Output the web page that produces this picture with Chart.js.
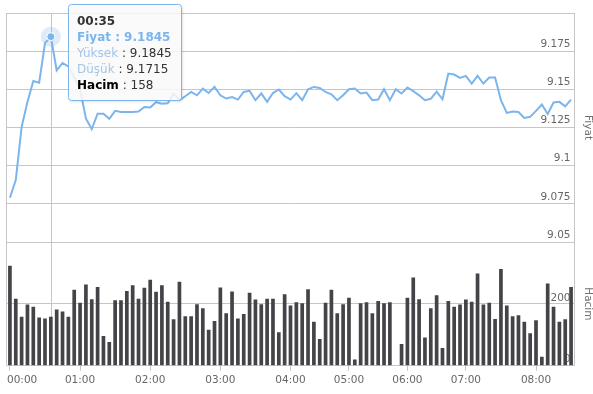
<!DOCTYPE html>
<html><head><meta charset="utf-8">
<script src="https://cdn.jsdelivr.net/npm/chart.js@4.4.0/dist/chart.umd.min.js"></script>
<style>html,body{margin:0;padding:0;background:#fff;}#wrap{position:relative;width:593px;height:394px;}</style>
</head><body><div id="wrap"><canvas id="c" width="593" height="394"></canvas></div>
<script>
const categories = [
 "00:00","00:05","00:10","00:15","00:20","00:25","00:30","00:35","00:40","00:45","00:50","00:55",
 "01:00","01:05","01:10","01:15","01:20","01:25","01:30","01:35","01:40","01:45","01:50","01:55",
 "02:00","02:05","02:10","02:15","02:20","02:25","02:30","02:35","02:40","02:45","02:50","02:55",
 "03:00","03:05","03:10","03:15","03:20","03:25","03:30","03:35","03:40","03:45","03:50","03:55",
 "04:00","04:05","04:10","04:15","04:20","04:25","04:30","04:35","04:40","04:45",
 "05:00","05:05","05:10","05:15","05:20","05:25","05:30","05:35","05:40","05:45",
 "06:00","06:05","06:10","06:15","06:20","06:25","06:30","06:35","06:40","06:45",
 "07:00","07:05","07:10","07:15","07:20","07:25","07:30","07:35","07:40","07:45","07:50","07:55",
 "08:00","08:05","08:10","08:15","08:20","08:25","08:30"
];
const prices = [
 9.0790,9.0906,9.1254,9.1418,9.1555,9.1544,9.1803,9.1845,9.1625,9.1673,9.1650,9.1580,
 9.1500,9.1309,9.1239,9.1341,9.1341,9.1307,9.1359,9.1352,9.1352,9.1352,9.1355,9.1385,
 9.1381,9.1416,9.1406,9.1409,9.1473,9.1429,9.1455,9.1483,9.1461,9.1505,9.1476,9.1516,
 9.1461,9.1440,9.1450,9.1433,9.1483,9.1490,9.1429,9.1473,9.1418,9.1476,9.1499,9.1455,
 9.1433,9.1475,9.1429,9.1501,9.1516,9.1509,9.1483,9.1468,9.1429,9.1461,
 9.1501,9.1505,9.1473,9.1479,9.1429,9.1433,9.1501,9.1429,9.1501,9.1473,
 9.1512,9.1488,9.1461,9.1429,9.1438,9.1485,9.1435,9.1603,9.1597,9.1575,
 9.1588,9.1538,9.1588,9.1538,9.1577,9.1577,9.1429,9.1346,9.1355,9.1352,9.1313,9.1320,
 9.1359,9.1401,9.1339,9.1414,9.1418,9.1389,9.1433
];
const volumes = [
 323,217,158,198,191,156,153,158,182,175,158,246,
 204,263,215,255,96,77,212,212,242,260,217,252,
 278,239,260,207,150,272,160,160,199,186,116,145,
 253,170,240,153,167,236,214,199,217,217,108,231,
 195,205,202,247,142,86,204,246,170,199,
 220,20,202,205,170,209,202,205,0,70,
 220,285,215,91,186,228,57,209,191,198,
 214,207,298,198,204,151,313,195,160,163,142,105,
 147,29,266,191,142,150,255
];
const priceTicks = [9.05, 9.075, 9.1, 9.125, 9.15, 9.175, 9.2];
const volumeTicks = [0, 200, 400];
const hoverIndex = 7;
const hoverHigh = 9.1845;
const hoverLow = 9.1715;

Chart.defaults.font.family = "'DejaVu Sans', Verdana, sans-serif";
const GRID = '#c6c6c6';
const LABEL = '#666666';
const isHour = i => categories[i].endsWith(':00');

const overlay = {
  id: 'overlay',
  beforeDatasetsDraw(chart) {
    const ctx = chart.ctx, a = chart.chartArea;
    const pt = chart.getDatasetMeta(0).data[hoverIndex];
    ctx.save();
    ctx.strokeStyle = GRID; ctx.lineWidth = 1;
    ctx.beginPath();
    const x = Math.round(pt.x) + 0.5, l = Math.round(a.left) - 0.5;
    ctx.moveTo(x, a.top); ctx.lineTo(x, a.bottom);
    ctx.moveTo(l, a.top); ctx.lineTo(l, a.bottom);
    ctx.stroke();
    ctx.restore();
  },
  afterDatasetsDraw(chart) {
    const ctx = chart.ctx;
    const pt = chart.getDatasetMeta(0).data[hoverIndex];
    ctx.save();
    ctx.fillStyle = 'rgba(124,181,236,0.25)';
    ctx.beginPath(); ctx.arc(pt.x, pt.y, 10, 0, Math.PI * 2); ctx.fill();
    ctx.fillStyle = '#7cb5ec'; ctx.strokeStyle = '#ffffff'; ctx.lineWidth = 1;
    ctx.beginPath(); ctx.arc(pt.x, pt.y, 4, 0, Math.PI * 2); ctx.fill(); ctx.stroke();
    ctx.restore();
  },
  afterDraw(chart) {
    const ctx = chart.ctx, a = chart.chartArea;
    const xs = chart.scales.x;
    // x axis hour labels (justified inside plot like the original)
    ctx.save();
    ctx.font = "10.5px 'DejaVu Sans'";
    ctx.fillStyle = LABEL;
    ctx.textBaseline = 'middle';
    categories.forEach((c, i) => {
      if (!isHour(i)) return;
      const w = ctx.measureText(c).width;
      let x = xs.getPixelForValue(i) - w / 2;
      if (x < a.left) x = a.left;
      if (x + w > a.right) x = a.right - w;
      ctx.fillText(c, x, a.bottom + 15);
    });
    ctx.restore();

    const pt = chart.getDatasetMeta(0).data[hoverIndex];
    const bx = Math.round(pt.x + 17) + 0.5, by = 4.5, bw = 113, bh = 96;
    ctx.save();
    ctx.shadowColor = 'rgba(0,0,0,0.18)'; ctx.shadowOffsetX = 1; ctx.shadowOffsetY = 1; ctx.shadowBlur = 3;
    ctx.fillStyle = 'rgba(255,255,255,0.85)';
    ctx.beginPath(); ctx.roundRect(bx, by, bw, bh, 3); ctx.fill();
    ctx.shadowColor = 'transparent';
    ctx.strokeStyle = '#7cb5ec'; ctx.lineWidth = 1; ctx.stroke();
    const lines = [
      [{t: categories[hoverIndex], c: '#333333', b: true}],
      [{t: 'Fiyat : ' + prices[hoverIndex].toFixed(4), c: '#7cb5ec', b: true}],
      [{t: 'Yüksek', c: '#a3c6e8'}, {t: ' : ' + hoverHigh.toFixed(4), c: '#333333'}],
      [{t: 'Düşük', c: '#a3c6e8'}, {t: ' : ' + hoverLow.toFixed(4), c: '#333333'}],
      [{t: 'Hacim', c: '#000000', b: true}, {t: ' : ' + volumes[hoverIndex], c: '#333333'}]
    ];
    const ys = [25, 40.5, 56.5, 72.5, 88.5];
    ctx.textBaseline = 'alphabetic';
    lines.forEach((segs, i) => {
      let x = bx + 8.5;
      segs.forEach(s => {
        ctx.font = (s.b ? 'bold ' : '') + "12px 'DejaVu Sans'";
        ctx.fillStyle = s.c;
        ctx.fillText(s.t, x, ys[i]);
        x += ctx.measureText(s.t).width;
      });
    });
    ctx.restore();
  }
};

new Chart(document.getElementById('c'), {
  data: {
    labels: categories,
    datasets: [
      {type: 'line', data: prices, yAxisID: 'y', borderColor: '#7cb5ec', borderWidth: 2,
       pointRadius: 0, tension: 0, fill: false, order: 0},
      {type: 'bar', data: volumes, yAxisID: 'y2', backgroundColor: '#434348',
       categoryPercentage: 1, barPercentage: 0.63, order: 1}
    ]
  },
  options: {
    responsive: false, animation: false, devicePixelRatio: 1,
    layout: {padding: {left: 7, top: 13, right: 0, bottom: 0}},
    plugins: {legend: {display: false}, tooltip: {enabled: false}},
    scales: {
      x: {
        type: 'category', offset: true,
        afterFit: s => { s.height = 28.3; s.paddingLeft = 0; s.paddingRight = 0; },
        grid: {display: true, drawOnChartArea: false, drawTicks: true, tickLength: 5, color: GRID, offset: false},
        border: {display: true, color: GRID},
        ticks: {autoSkip: false, maxRotation: 0, color: 'rgba(0,0,0,0)', font: {size: 10.5}, padding: 2,
          callback: (v, i) => isHour(i) ? categories[i] : null}
      },
      y: {
        position: 'right', stack: 'p', stackWeight: 229.2, weight: 1,
        min: 9.05, max: 9.2,
        afterBuildTicks: s => { s.ticks = priceTicks.map(v => ({value: v})); },
        afterFit: s => { s.width = 19; },
        grid: {color: GRID, drawTicks: false},
        border: {display: true, color: GRID},
        ticks: {mirror: true, padding: -3.5, labelOffset: -7, color: LABEL, font: {size: 10.5},
          callback: v => v >= 9.2 ? '' : String(Number(v.toFixed(3)))},
        title: {display: true, text: 'Fiyat', color: '#707070', font: {size: 10.5, lineHeight: 1}, padding: {top: 0, bottom: 0}}
      },
      y2: {
        position: 'right', stack: 'p', stackWeight: 123.7, weight: 1,
        min: 0, max: 400,
        afterBuildTicks: s => { s.ticks = volumeTicks.map(v => ({value: v})); },
        afterFit: s => { s.width = 19; },
        grid: {color: GRID, drawTicks: false},
        border: {display: true, color: GRID},
        ticks: {mirror: true, padding: -3.5, labelOffset: -6, color: LABEL, font: {size: 10.5},
          callback: v => v >= 400 ? '' : String(v)},
        title: {display: true, text: 'Hacim', color: '#707070', font: {size: 10.5, lineHeight: 1}, padding: {top: 0, bottom: 0}}
      }
    }
  },
  plugins: [overlay]
});
</script></body></html>
